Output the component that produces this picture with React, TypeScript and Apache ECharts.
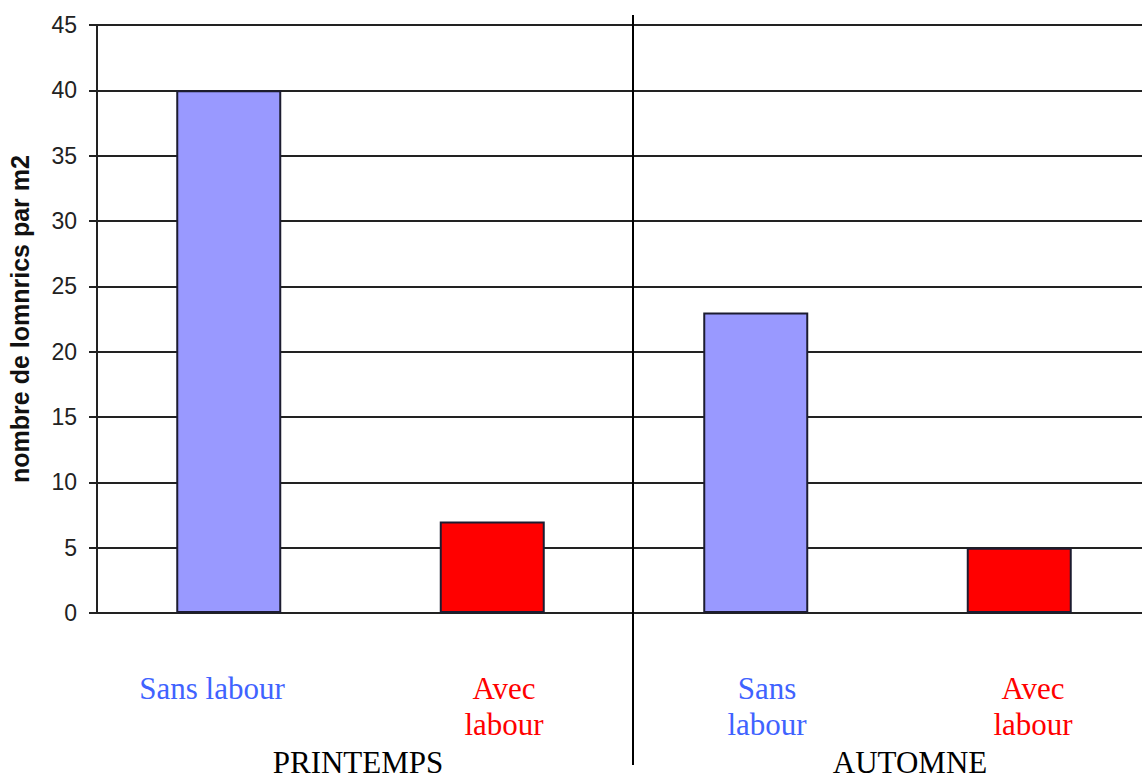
import React, { useEffect, useRef } from "react";
import * as echarts from "echarts";

// Earthworm counts per m2, by season and tillage practice
const categories = ["Printemps sans labour", "Printemps avec labour", "Automne sans labour", "Automne avec labour"];
const values = [40, 7, 23, 5];
const barColors = ["#9999ff", "#ff0000", "#9999ff", "#ff0000"];
const treatmentLabels = ["Sans labour", "Avec\nlabour", "Sans\nlabour", "Avec\nlabour"];
const treatmentColors = ["#3f63ff", "#ff0000", "#3f63ff", "#ff0000"];
const seasonLabels = ["PRINTEMPS", "AUTOMNE"];
const yTicks = { min: 0, max: 45, interval: 5 };
const yTitle = "nombre de lomnrics par m2";

export default function App() {
  const ref = useRef<HTMLDivElement>(null);

  useEffect(() => {
    document.body.style.margin = "0";
    const chart = echarts.init(ref.current!, undefined, { renderer: "svg" });
    const serif = "'Liberation Serif', 'Times New Roman', serif";
    const sans = "'Liberation Sans', Arial, sans-serif";

    const textX = [212, 504, 767, 1033];
    const seasonX = [358, 910];

    const graphics: any[] = [
      {
        type: "line",
        shape: { x1: 633, y1: 15, x2: 633, y2: 765 },
        style: { stroke: "#000", lineWidth: 2 },
        z: 10,
      },
      ...treatmentLabels.map((t, i) => ({
        type: "text",
        x: textX[i],
        y: 670,
        style: {
          text: t,
          fill: treatmentColors[i],
          font: `31px ${serif}`,
          align: "center",
          verticalAlign: "top",
          lineHeight: 36,
        },
      })),
      ...seasonLabels.map((t, i) => ({
        type: "text",
        x: seasonX[i],
        y: 777,
        style: {
          text: t,
          fill: "#000",
          font: `31px ${serif}`,
          align: "center",
          verticalAlign: "bottom",
          lineHeight: 30,
        },
      })),
    ];

    chart.setOption({
      animation: false,
      backgroundColor: "#fff",
      grid: { left: 97, top: 25, width: 1054, height: 588, outerBoundsMode: "none", containLabel: false },
      xAxis: {
        type: "category",
        data: categories,
        axisLine: { show: true, lineStyle: { color: "#222", width: 2 } },
        axisTick: { show: false },
        axisLabel: { show: false },
      },
      yAxis: {
        type: "value",
        min: yTicks.min,
        max: yTicks.max,
        interval: yTicks.interval,
        name: yTitle,
        nameLocation: "middle",
        nameGap: 65,
        nameTextStyle: { fontFamily: sans, fontWeight: "bold", fontSize: 25, color: "#111" },
        axisLine: { show: true, lineStyle: { color: "#222", width: 2 } },
        axisTick: { show: true, length: 8, lineStyle: { color: "#222", width: 2 } },
        axisLabel: { margin: 20, fontFamily: sans, fontSize: 23, color: "#222" },
        splitLine: { show: true, lineStyle: { color: "#222", width: 2 } },
      },
      series: [
        {
          type: "bar",
          barWidth: 105,
          data: values.map((v, i) => ({
            value: v,
            itemStyle: { color: barColors[i], borderColor: "#1c1c30", borderWidth: 2 },
          })),
        },
      ],
      graphic: graphics,
    });

    return () => chart.dispose();
  }, []);

  return (
    <div style={{ width: 1142, height: 778, overflow: "hidden" }}>
      <div ref={ref} style={{ width: 1160, height: 778 }} />
    </div>
  );
}
